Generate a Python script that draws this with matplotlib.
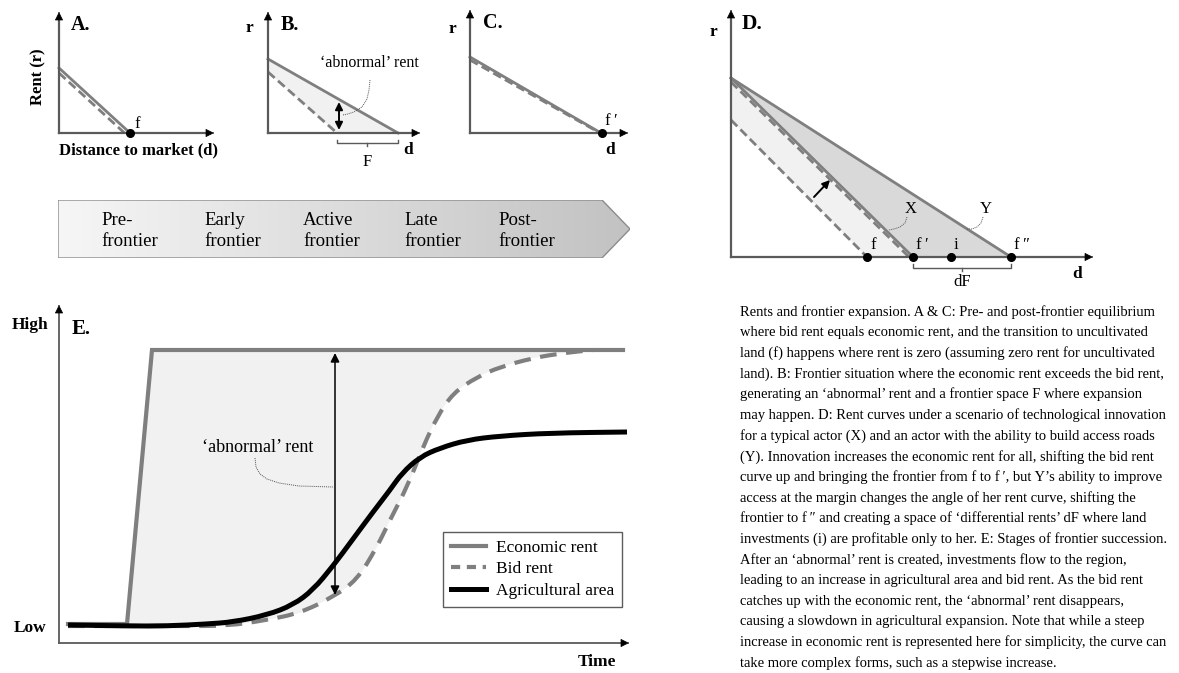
import numpy as np
import matplotlib
matplotlib.use('Agg')
import matplotlib.pyplot as plt
from matplotlib.patches import Polygon, PathPatch
from matplotlib.path import Path
from matplotlib.lines import Line2D
from matplotlib.colors import LinearSegmentedColormap

plt.rcParams['font.family'] = ['Liberation Serif', 'DejaVu Serif']

# ---- data (local units = pixels from each panel's origin) ----
# A: pre-frontier equilibrium
a_econ_d, a_econ_r = [0, 71], [65, 0]
a_bid_d, a_bid_r = [0, 65.5], [60, 0]
a_front = 71

# B: frontier situation
b_econ_d, b_econ_r = [0, 130], [74, 0]
b_bid_d, b_bid_r = [0, 69], [61, 0]
b_abn_d, b_abn_r = [71, 71], [3, 31]
b_lead_d = [102, 101, 99, 94, 86, 78, 74]
b_lead_r = [53, 43, 34, 26, 21, 18.5, 18]

# C: post-frontier equilibrium
c_econ_d, c_econ_r = [0, 131], [76, 0]
c_bid_d, c_bid_r = [0, 130], [73, 0]
c_front = 132

# D: technological innovation
d_y_d, d_y_r = [0, 280], [179, 0]
d_x_d, d_x_r = [0, 182], [179, 0]
d_newbid_d, d_newbid_r = [0, 178], [175, 0]
d_oldbid_d, d_oldbid_r = [0, 136], [137, 0]
d_points = [136, 182, 220, 280]
d_point_labels = ['f', 'f\u2009\u2032', 'i', 'f\u2009\u2033']
d_shift_d, d_shift_r = [83, 99], [60, 77]
d_xlead_d = [176, 174, 169, 163, 158]
d_xlead_r = [40, 34, 30, 28, 27]
d_ylead_d = [252, 250, 246, 241, 236]
d_ylead_r = [40, 34, 30, 28, 28]

# frontier stages
stages = ['Pre-\nfrontier', 'Early\nfrontier', 'Active\nfrontier', 'Late\nfrontier', 'Post-\nfrontier']
stage_x = [43, 146, 245, 346, 440]

# E: stages of frontier succession over time
e_econ_t = [9, 68, 93, 564]
e_econ_v = [19, 19, 293, 293]
e_bid_t = [9, 120, 168, 208, 241, 274, 298, 318, 331, 349, 364, 378, 394, 418, 441, 474, 504, 534]
e_bid_v = [17, 17, 17, 23, 30, 46, 63, 96, 123, 158, 196, 226, 250, 266, 276, 285, 290, 293]
e_ag_t = [9, 68, 108, 148, 174, 208, 234, 254, 274, 294, 314, 331, 343, 361, 381, 408, 441, 491, 568]
e_ag_v = [18, 17, 17, 19, 21, 28, 38, 53, 77, 104, 131, 153, 170, 186, 195, 203, 207, 210, 211]
e_abn_t, e_abn_v = [276, 276], [48, 290]
e_lead_t = [196, 197, 201, 208, 220, 240, 274]
e_lead_v = [185, 176, 169, 164, 160, 157, 156]
legend_labels = ['Economic rent', 'Bid rent', 'Agricultural area']

caption = [
    "Rents and frontier expansion. A & C: Pre- and post-frontier equilibrium",
    "where bid rent equals economic rent, and the transition to uncultivated",
    "land (f) happens where rent is zero (assuming zero rent for uncultivated",
    "land). B: Frontier situation where the economic rent exceeds the bid rent,",
    "generating an \u2018abnormal\u2019 rent and a frontier space F where expansion",
    "may happen. D: Rent curves under a scenario of technological innovation",
    "for a typical actor (X) and an actor with the ability to build access roads",
    "(Y). Innovation increases the economic rent for all, shifting the bid rent",
    "curve up and bringing the frontier from f to f\u2009\u2032, but Y\u2019s ability to improve",
    "access at the margin changes the angle of her rent curve, shifting the",
    "frontier to f\u2009\u2033 and creating a space of \u2018differential rents\u2019 dF where land",
    "investments (i) are profitable only to her. E: Stages of frontier succession.",
    "After an \u2018abnormal\u2019 rent is created, investments flow to the region,",
    "leading to an increase in agricultural area and bid rent. As the bid rent",
    "catches up with the economic rent, the \u2018abnormal\u2019 rent disappears,",
    "causing a slowdown in agricultural expansion. Note that while a steep",
    "increase in economic rent is represented here for simplicity, the curve can",
    "take more complex forms, such as a stepwise increase.",
]

# ---- styles ----
W_PX, H_PX = 1179, 673
GRAY = '#7f7f7f'
AXC = '#5a5a5a'
LIGHT = '#f1f1f1'
DARK = '#d9d9d9'
DASH = (3.2, 1.6)

fig = plt.figure(figsize=(11.79, 6.73), dpi=100)


def panel(ox, oy, tipx, tipy):
    w = tipx - ox
    h = oy - tipy
    ax = fig.add_axes([ox / W_PX, 1 - oy / H_PX, w / W_PX, h / H_PX])
    ax.set_xlim(0, w)
    ax.set_ylim(0, h)
    ax.axis('off')
    return ax, w, h


def axes_arrows(ax, w, h, lw=1.6, hs=13):
    ax.plot([0, w - 4], [0, 0], color=AXC, lw=lw, clip_on=False, zorder=6)
    ax.plot([0, 0], [0, h - 4], color=AXC, lw=lw, clip_on=False, zorder=6)
    for tip, tail in [((w, 0), (w - 1, 0)), ((0, h), (0, h - 1))]:
        ax.annotate('', xy=tip, xytext=tail,
                    arrowprops=dict(arrowstyle='-|>', color='k', lw=0.5,
                                    mutation_scale=hs, shrinkA=0, shrinkB=0),
                    zorder=7)


def bracket(ax, x0, x1, y, up=4, down=4):
    ax.plot([x0, x0, x1, x1], [y + up, y, y, y + up], color=AXC, lw=1.0, clip_on=False)
    xm = (x0 + x1) / 2
    ax.plot([xm, xm], [y, y - down], color=AXC, lw=1.0, clip_on=False)


def smooth(xs, ys):
    # quadratic curve through the midpoints of the read points
    verts = [(xs[0], ys[0])]
    codes = [Path.MOVETO]
    for i in range(1, len(xs) - 1):
        verts += [(xs[i], ys[i]), ((xs[i] + xs[i + 1]) / 2, (ys[i] + ys[i + 1]) / 2)]
        codes += [Path.CURVE3, Path.CURVE3]
    verts.append((xs[-1], ys[-1]))
    codes.append(Path.LINETO)
    return Path(verts, codes)


bold = dict(fontweight='bold')

# ---- A ----
ax, w, h = panel(59, 133, 214, 12)
ax.plot(a_econ_d, a_econ_r, color=GRAY, lw=2, clip_on=False)
ax.plot(a_bid_d, a_bid_r, color=GRAY, lw=2, dashes=DASH, clip_on=False)
axes_arrows(ax, w, h)
ax.plot([a_front], [0], 'o', color='k', ms=5.5, clip_on=False, zorder=8)
ax.text(a_front + 4, 9, 'f', fontsize=12, ha='left', va='center')
ax.text(12, h - 13, 'A.', fontsize=14.5, va='center', ha='left', **bold)
ax.text(-21, 56, 'Rent (r)', rotation=90, fontsize=12, ha='center', va='center', **bold)
ax.text(79, -17, 'Distance to market (d)', fontsize=12, ha='center', va='center', **bold)

# ---- B ----
ax, w, h = panel(268, 133, 420, 12)
ax.fill(b_econ_d + [b_bid_d[1], 0], b_econ_r + [0, b_bid_r[0]], color=LIGHT, lw=0)
ax.plot(b_econ_d, b_econ_r, color=GRAY, lw=2, clip_on=False)
ax.plot(b_bid_d, b_bid_r, color=GRAY, lw=2, dashes=DASH, clip_on=False)
axes_arrows(ax, w, h)
ax.annotate('', xy=(b_abn_d[0], b_abn_r[0]), xytext=(b_abn_d[1], b_abn_r[1]),
            arrowprops=dict(arrowstyle='<|-|>', color='k', lw=1.4, mutation_scale=11,
                            shrinkA=0, shrinkB=0))
ax.plot(b_lead_d, b_lead_r, color='#555555', lw=0.7, ls=(0, (1, 1)))
ax.text(52, 70, '\u2018abnormal\u2019 rent', fontsize=11.5, ha='left', va='center')
bracket(ax, b_bid_d[1], b_econ_d[1], -10, up=3, down=3)
ax.text((b_bid_d[1] + b_econ_d[1]) / 2, -29, 'F', fontsize=12, ha='center', va='center')
ax.text(140, -17, 'd', fontsize=12.5, ha='center', va='center', **bold)
ax.text(-19, 105, 'r', fontsize=12.5, ha='center', va='center', **bold)
ax.text(13, h - 13, 'B.', fontsize=14.5, va='center', ha='left', **bold)

# ---- C ----
ax, w, h = panel(470, 133, 628, 10)
ax.plot(c_econ_d, c_econ_r, color=GRAY, lw=2, clip_on=False)
ax.plot(c_bid_d, c_bid_r, color=GRAY, lw=2, dashes=DASH, clip_on=False)
axes_arrows(ax, w, h)
ax.plot([c_front], [0], 'o', color='k', ms=5.5, clip_on=False, zorder=8)
ax.text(c_front + 3, 12, 'f\u2009\u2032', fontsize=12, ha='left', va='center')
ax.text(140, -17, 'd', fontsize=12.5, ha='center', va='center', **bold)
ax.text(-18, 104, 'r', fontsize=12.5, ha='center', va='center', **bold)
ax.text(13, h - 13, 'C.', fontsize=14.5, va='center', ha='left', **bold)

# ---- D ----
ax, w, h = panel(731, 257, 1093, 10)
ax.fill(d_oldbid_d + [d_x_d[1], 0], d_oldbid_r + [0, d_x_r[0]], color=LIGHT, lw=0)
ax.fill(d_y_d + [d_x_d[1]], d_y_r + [0], color=DARK, lw=0)
ax.plot(d_y_d, d_y_r, color=GRAY, lw=2, clip_on=False)
ax.plot(d_x_d, d_x_r, color=GRAY, lw=2, clip_on=False)
ax.plot(d_newbid_d, d_newbid_r, color=GRAY, lw=2, dashes=DASH, clip_on=False)
ax.plot(d_oldbid_d, d_oldbid_r, color=GRAY, lw=2, dashes=DASH, clip_on=False)
axes_arrows(ax, w, h)
ax.annotate('', xy=(d_shift_d[1], d_shift_r[1]), xytext=(d_shift_d[0], d_shift_r[0]),
            arrowprops=dict(arrowstyle='-|>', color='k', lw=1.4, mutation_scale=11,
                            shrinkA=0, shrinkB=0))
ax.plot(d_points, [0] * len(d_points), 'o', color='k', ms=5.5, clip_on=False, zorder=8)
for px, lab in zip(d_points, d_point_labels):
    ax.text(px + 3, 12, lab, fontsize=12, ha='left', va='center')
ax.plot(d_xlead_d, d_xlead_r, color='#555555', lw=0.7, ls=(0, (1, 1)))
ax.plot(d_ylead_d, d_ylead_r, color='#555555', lw=0.7, ls=(0, (1, 1)))
ax.text(180, 48, 'X', fontsize=12, ha='center', va='center')
ax.text(255, 48, 'Y', fontsize=12, ha='center', va='center')
bracket(ax, d_points[1], d_points[3], -11, up=4, down=3)
ax.text((d_points[1] + d_points[3]) / 2, -25, 'dF', fontsize=12, ha='center', va='center')
ax.text(346, -17, 'd', fontsize=12.5, ha='center', va='center', **bold)
ax.text(-18, 225, 'r', fontsize=12.5, ha='center', va='center', **bold)
ax.text(11, h - 14, 'D.', fontsize=15.5, va='center', ha='left', **bold)

# ---- stage band ----
ax, w, h = panel(58, 258, 630, 200)
band = Polygon([(0, 0), (544, 0), (572, 29), (544, 58), (0, 58)], closed=True,
               facecolor='none', edgecolor='#8c8c8c', lw=1.0, zorder=3)
ax.add_patch(band)
grad = LinearSegmentedColormap.from_list('band', ['#f6f6f6', '#c2c2c2'])
img = ax.imshow(np.linspace(0, 1, 256)[None, :], cmap=grad, aspect='auto',
                extent=(0, 572, 0, 58), zorder=1)
img.set_clip_path(band)
ax.set_xlim(0, w)
ax.set_ylim(0, h)
for sx, s in zip(stage_x, stages):
    ax.text(sx, 27, s, fontsize=13.6, ha='left', va='center', linespacing=1.38, zorder=4)

# ---- E ----
ax, w, h = panel(59, 643, 629, 305)
ax.fill(e_econ_t[1:3] + e_bid_t[::-1],
        e_econ_v[1:3] + e_bid_v[::-1], color=LIGHT, lw=0)
ax.plot(e_econ_t, e_econ_v, color=GRAY, lw=3, solid_joinstyle='miter')
ax.add_patch(PathPatch(smooth(e_bid_t, e_bid_v), fill=False, edgecolor=GRAY, lw=3,
                       linestyle=(0, (4, 2.3))))
ax.add_patch(PathPatch(smooth(e_ag_t, e_ag_v), fill=False, edgecolor='k', lw=3.6,
                       capstyle='butt', zorder=3))
axes_arrows(ax, w, h, lw=1.3, hs=13)
ax.annotate('', xy=(e_abn_t[0], e_abn_v[0]), xytext=(e_abn_t[1], e_abn_v[1]),
            arrowprops=dict(arrowstyle='<|-|>', color='k', lw=1.1, mutation_scale=13,
                            shrinkA=0, shrinkB=0), zorder=6)
ax.plot(e_lead_t, e_lead_v, color='#555555', lw=0.7, ls=(0, (1, 1)))
ax.text(143, 196, '\u2018abnormal\u2019 rent', fontsize=13, ha='left', va='center')
ax.text(-11, 318, 'High', fontsize=12.5, ha='right', va='center', **bold)
ax.text(-13, 15, 'Low', fontsize=12.5, ha='right', va='center', **bold)
ax.text(13, 314, 'E.', fontsize=15, ha='left', va='center', **bold)
ax.text(538, -19, 'Time', fontsize=12.5, ha='center', va='center', **bold)
handles = [Line2D([], [], color=GRAY, lw=3),
           Line2D([], [], color=GRAY, lw=3, dashes=(2.2, 1.6)),
           Line2D([], [], color='k', lw=3.6)]
leg = ax.legend(handles, legend_labels, loc='upper left',
                bbox_to_anchor=(384, 111), bbox_transform=ax.transData,
                frameon=True, fancybox=False, edgecolor='#333333', fontsize=12.5,
                handlelength=2.0, borderpad=0.45, labelspacing=0.3,
                handletextpad=0.6, borderaxespad=0)
leg.get_frame().set_linewidth(1.0)

# ---- caption ----
for i, line in enumerate(caption):
    fig.text(740 / W_PX, 1 - (312 + i * 20.65) / H_PX, line, fontsize=10.45,
             ha='left', va='center')

fig.savefig('out.png', dpi=100)
